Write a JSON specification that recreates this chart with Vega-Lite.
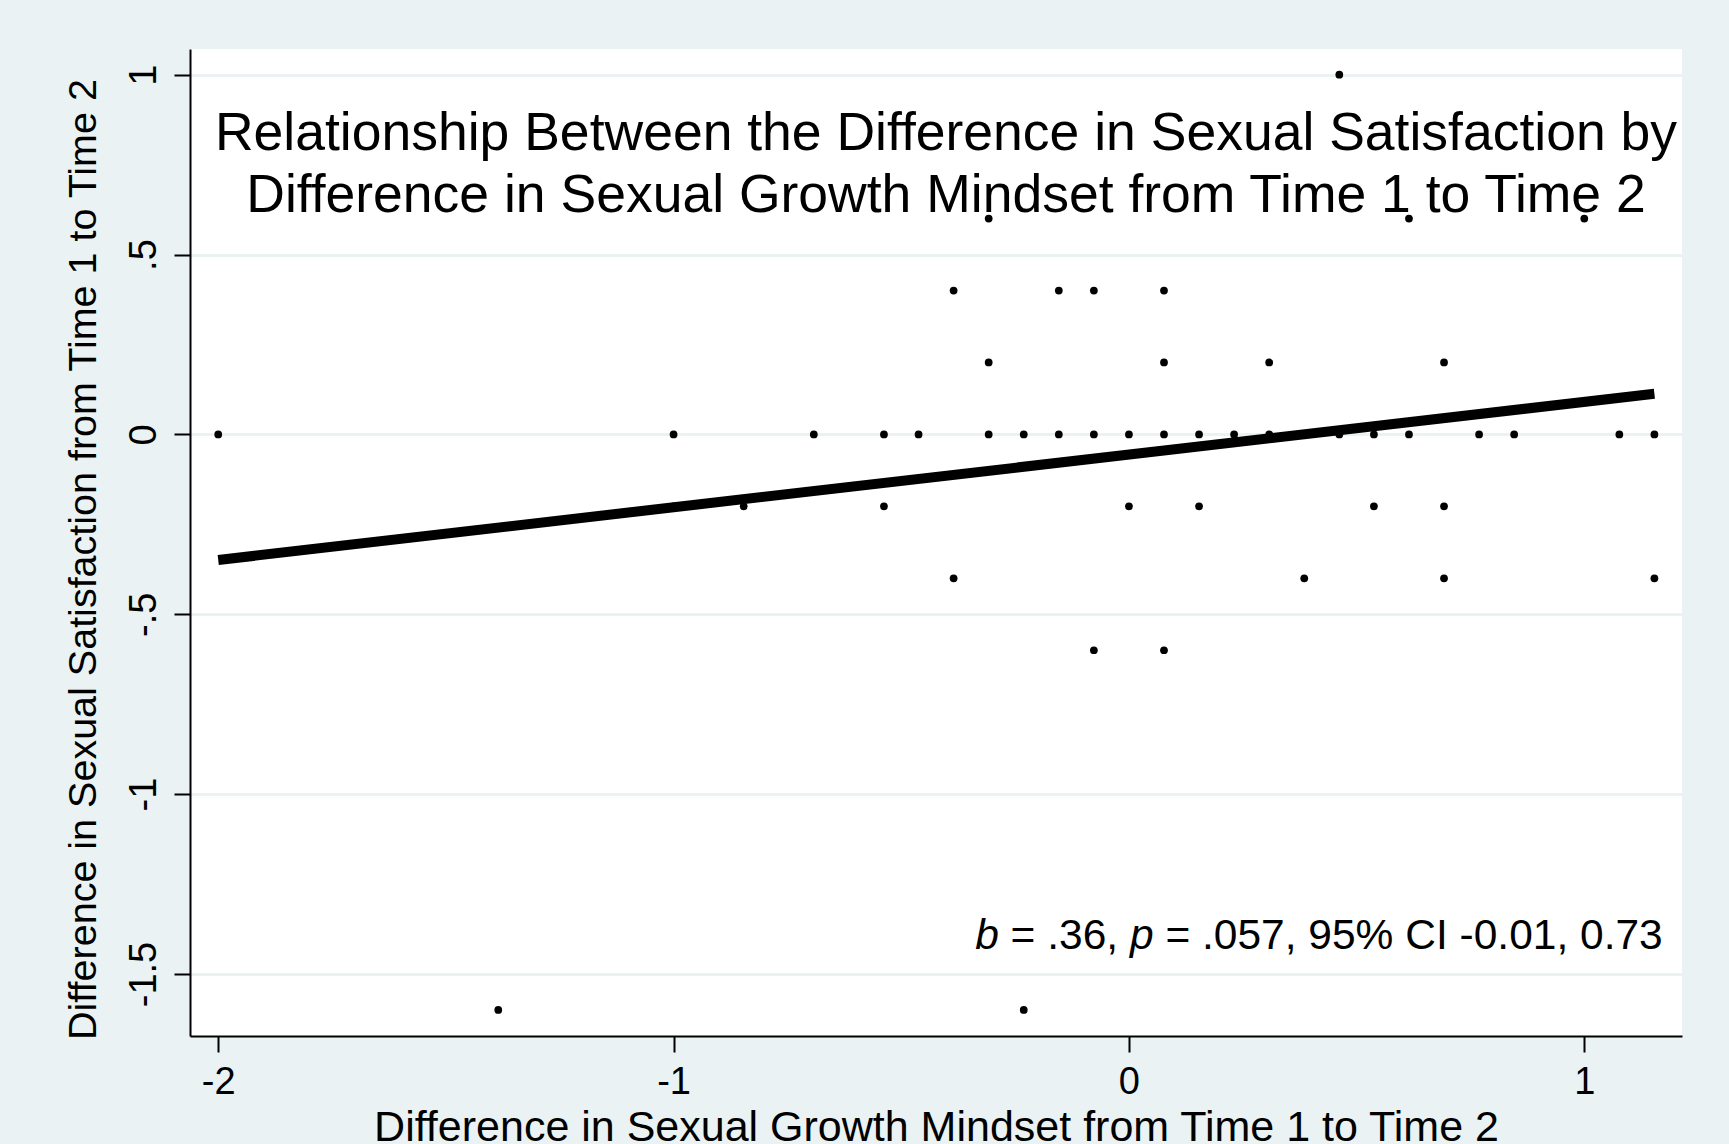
{
  "$schema": "https://vega.github.io/schema/vega-lite/v6.json",
  "width": 1492,
  "height": 987,
  "autosize": {"type": "none"},
  "padding": {"left": 190, "top": 49, "right": 47, "bottom": 108},
  "background": "#EAF2F3",
  "config": {
    "view": {"fill": "white", "stroke": null},
    "font": "Liberation Sans",
    "axis": {
      "domainColor": "black",
      "domainWidth": 2,
      "tickColor": "black",
      "tickWidth": 2,
      "tickSize": 16,
      "labelFont": "Liberation Sans",
      "labelFontSize": 38,
      "labelColor": "black",
      "titleFont": "Liberation Sans",
      "titleFontSize": 39.5,
      "titleFontWeight": "normal",
      "titleColor": "black"
    }
  },
  "title": {
    "text": ["Relationship Between the Difference in Sexual Satisfaction by", "\u00a0Difference in Sexual Growth Mindset from Time 1 to Time 2"],
    "frame": "group",
    "anchor": "middle",
    "orient": "top",
    "baseline": "alphabetic",
    "offset": -101,
    "dx": 10,
    "dy": 115,
    "fontSize": 53.5,
    "lineHeight": 62,
    "font": "Liberation Sans",
    "fontWeight": "normal",
    "color": "black"
  },
  "datasets": {
    "points": [
      {"x": 0.462, "y": 1.0},
      {"x": -0.308, "y": 0.6}, {"x": 0.615, "y": 0.6}, {"x": 1.0, "y": 0.6},
      {"x": -0.385, "y": 0.4}, {"x": -0.154, "y": 0.4}, {"x": -0.077, "y": 0.4}, {"x": 0.077, "y": 0.4},
      {"x": -0.308, "y": 0.2}, {"x": 0.077, "y": 0.2}, {"x": 0.308, "y": 0.2}, {"x": 0.692, "y": 0.2},
      {"x": -2.0, "y": 0}, {"x": -1.0, "y": 0}, {"x": -0.692, "y": 0}, {"x": -0.538, "y": 0},
      {"x": -0.462, "y": 0}, {"x": -0.308, "y": 0}, {"x": -0.231, "y": 0}, {"x": -0.154, "y": 0},
      {"x": -0.077, "y": 0}, {"x": 0.0, "y": 0}, {"x": 0.077, "y": 0}, {"x": 0.154, "y": 0},
      {"x": 0.231, "y": 0}, {"x": 0.308, "y": 0}, {"x": 0.462, "y": 0}, {"x": 0.538, "y": 0},
      {"x": 0.615, "y": 0}, {"x": 0.769, "y": 0}, {"x": 0.846, "y": 0}, {"x": 1.077, "y": 0},
      {"x": 1.154, "y": 0},
      {"x": -1.0, "y": -0.2}, {"x": -0.846, "y": -0.2}, {"x": -0.538, "y": -0.2}, {"x": 0.0, "y": -0.2},
      {"x": 0.154, "y": -0.2}, {"x": 0.538, "y": -0.2}, {"x": 0.692, "y": -0.2},
      {"x": -0.385, "y": -0.4}, {"x": 0.385, "y": -0.4}, {"x": 0.692, "y": -0.4}, {"x": 1.154, "y": -0.4},
      {"x": -0.077, "y": -0.6}, {"x": 0.077, "y": -0.6},
      {"x": -1.385, "y": -1.6}, {"x": -0.231, "y": -1.6}
    ],
    "fit": [
      {"x": -2.0, "y": -0.349},
      {"x": 1.154, "y": 0.113}
    ],
    "note": [
      {"x": -0.3377, "y": -1.4313}
    ]
  },
  "layer": [
    {
      "data": {"name": "points"},
      "mark": {"type": "point", "filled": true, "color": "black", "size": 60, "opacity": 1, "strokeWidth": 0},
      "encoding": {
        "x": {
          "field": "x", "type": "quantitative",
          "scale": {"domain": [-2.062, 1.2146], "nice": false, "zero": false},
          "axis": {
            "values": [-2, -1, 0, 1],
            "grid": false,
            "labelExpr": "'' + datum.value",
            "labelBaseline": "alphabetic",
            "labelPadding": 41,
            "title": "Difference in Sexual Growth Mindset from Time 1 to Time 2",
            "titleFontSize": 43,
            "titleBaseline": "alphabetic",
            "titleY": 104
          }
        },
        "y": {
          "field": "y", "type": "quantitative",
          "scale": {"domain": [-1.6724, 1.0715], "nice": false, "zero": false},
          "axis": {
            "values": [-1.5, -1, -0.5, 0, 0.5, 1],
            "grid": true,
            "gridColor": "#EAF2F3",
            "gridWidth": 3,
            "labelExpr": "datum.value == 0.5 ? '.5' : datum.value == -0.5 ? '-.5' : '' + datum.value",
            "labelAngle": -90,
            "labelAlign": "center",
            "labelBaseline": "alphabetic",
            "labelPadding": 19,
            "title": "Difference in Sexual Satisfaction from Time 1 to Time 2",
            "titleAngle": -90,
            "titleAlign": "center",
            "titleBaseline": "alphabetic",
            "titleX": -95,
            "titleY": 510
          }
        }
      }
    },
    {
      "data": {"name": "fit"},
      "mark": {"type": "line", "color": "black", "strokeWidth": 10, "strokeCap": "butt"},
      "encoding": {
        "x": {"field": "x", "type": "quantitative"},
        "y": {"field": "y", "type": "quantitative"}
      }
    },
    {
      "data": {"name": "note"},
      "mark": {"type": "text", "text": "b", "fontStyle": "italic", "align": "left", "baseline": "alphabetic", "fontSize": 42.5, "font": "Liberation Sans", "color": "black", "dx": 0},
      "encoding": {"x": {"field": "x", "type": "quantitative"}, "y": {"field": "y", "type": "quantitative"}}
    },
    {
      "data": {"name": "note"},
      "mark": {"type": "text", "text": "= .36,", "align": "left", "baseline": "alphabetic", "fontSize": 42.5, "font": "Liberation Sans", "color": "black", "dx": 35.45},
      "encoding": {"x": {"field": "x", "type": "quantitative"}, "y": {"field": "y", "type": "quantitative"}}
    },
    {
      "data": {"name": "note"},
      "mark": {"type": "text", "text": "p", "fontStyle": "italic", "align": "left", "baseline": "alphabetic", "fontSize": 42.5, "font": "Liberation Sans", "color": "black", "dx": 154.79},
      "encoding": {"x": {"field": "x", "type": "quantitative"}, "y": {"field": "y", "type": "quantitative"}}
    },
    {
      "data": {"name": "note"},
      "mark": {"type": "text", "text": "= .057, 95% CI -0.01, 0.73", "align": "left", "baseline": "alphabetic", "fontSize": 42.5, "font": "Liberation Sans", "color": "black", "dx": 190.23},
      "encoding": {"x": {"field": "x", "type": "quantitative"}, "y": {"field": "y", "type": "quantitative"}}
    }
  ]
}
